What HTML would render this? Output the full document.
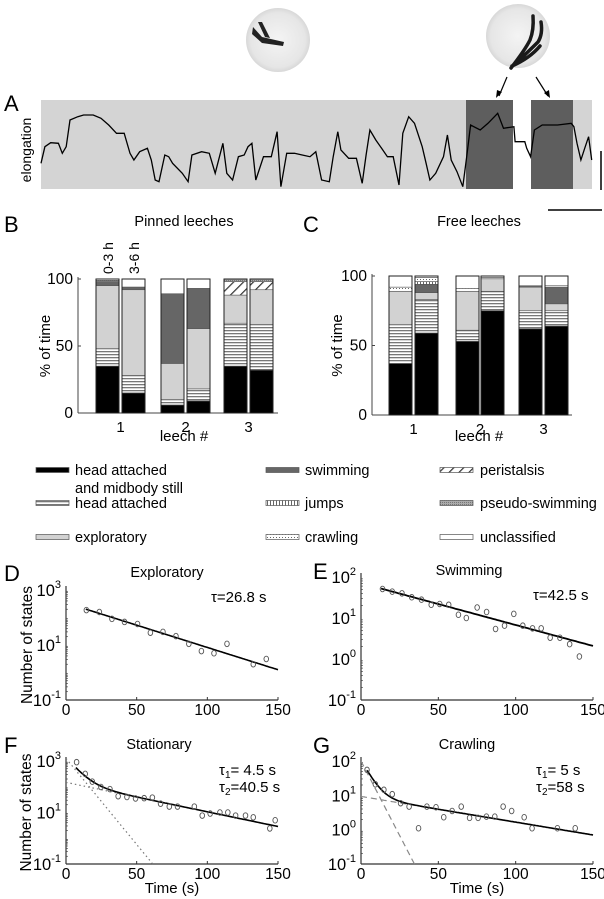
<!DOCTYPE html>
<html><head><meta charset="utf-8">
<style>
html,body{margin:0;padding:0;background:#fff;overflow:hidden;width:604px;height:899px;}
svg{display:block;font-family:"Liberation Sans",Arial,sans-serif;}
</style></head>
<body>
<svg id="fig" width="604" height="899" viewBox="0 0 604 899" xmlns="http://www.w3.org/2000/svg">
<defs>
<pattern id="pHead" width="4" height="3" patternUnits="userSpaceOnUse"><rect width="4" height="3" fill="#fff"/><rect y="0" width="4" height="1.3" fill="#777"/></pattern>
<pattern id="pJump" width="3" height="4" patternUnits="userSpaceOnUse"><rect width="3" height="4" fill="#fff"/><rect width="1" height="4" fill="#666"/></pattern>
<pattern id="pCrawl" width="3" height="3" patternUnits="userSpaceOnUse"><rect width="3" height="3" fill="#fff"/><rect width="1" height="1" fill="#666"/></pattern>
<pattern id="pPeri" width="7" height="7" patternUnits="userSpaceOnUse" patternTransform="rotate(45)"><rect width="7" height="7" fill="#fff"/><rect width="1.2" height="7" fill="#333"/></pattern>
<pattern id="pPseudo" width="2" height="2" patternUnits="userSpaceOnUse"><rect width="2" height="2" fill="#aaa"/><rect width="1" height="1" fill="#777"/></pattern>
<clipPath id="clipD"><rect x="66" y="585" width="215" height="116"/></clipPath>
<clipPath id="clipE"><rect x="359" y="572" width="237" height="129"/></clipPath>
<clipPath id="clipF"><rect x="66" y="756" width="215" height="109"/></clipPath>
<clipPath id="clipG"><rect x="361" y="756" width="235" height="109"/></clipPath>
<radialGradient id="dish" cx="50%" cy="50%" r="50%"><stop offset="0" stop-color="#f4f4f4"/><stop offset="0.85" stop-color="#e6e6e6"/><stop offset="1" stop-color="#d8d8d8"/></radialGradient>
</defs>
</svg>
<script>
// ---------- Panel A trace data ----------
const traceT = [0,10,25,45,55,65,75,95,110,135,155,175,195,215,230,240,255,275,285,295,305,320,330,340,365,380,390,415,435,450,470,480,495,510,525,535,545,555,575,595,610,620,635,655,675,695,710,725,745,755,767,775,795,815,830,840,850,865,880,895,910,925,935,950,965,985,995,1005,1020,1040,1050,1060,1075,1090,1100,1110,1135,1155,1180,1195,1222,1225,1250,1255,1265,1275,1295,1335,1370,1377,1385,1395,1405,1415,1423];
const traceE = [78,128,140,138,108,128,208,218,223,223,213,193,168,168,108,88,113,123,88,28,23,103,98,78,48,23,103,113,108,48,138,48,28,98,103,128,138,28,98,98,173,8,108,108,103,98,113,28,23,98,173,118,93,93,18,103,178,148,123,98,98,13,168,218,198,128,78,28,48,98,163,88,53,8,98,193,178,198,228,183,188,143,143,123,98,178,193,193,198,188,138,88,123,158,88];

// ---------- Panel B/C bar data (percent of time) ----------
const barGroups = ["1","2","3"];
const pinnedHeadStill = [35,15,6,9,35,32];
const pinnedHeadAtt   = [13,13,4,9,32,34];
const pinnedExplor    = [47,64,27,45,21,26];
const pinnedSwim      = [3,2,52,30,0,0];
const pinnedJumps     = [0,0,0,0,0,0];
const pinnedCrawl     = [0,0,0,0,0,0];
const pinnedPeri      = [0,0,0,0,10,6];
const pinnedPseudo    = [1,0,0,0,2,2];
const pinnedUncl      = [1,6,11,7,0,0];
const freeHeadStill = [37,59,53,75,62,64];
const freeHeadAtt   = [28,24,8,14,13,11];
const freeExplor    = [24,5,28,9,17,5];
const freeSwim      = [0,6,0,0,1,12];
const freeJumps     = [0,2,0,0,0,0];
const freeCrawl     = [3,3,2,1,0,1];
const freePeri      = [0,0,0,0,0,0];
const freePseudo    = [0,0,0,0,0,0];
const freeUncl      = [8,1,9,1,7,7];
const percentTicks = [0,50,100];

// ---------- Panels D-G (survival of states) ----------
const timeTicks = [0,50,100,150];
const exploT = [14.4,23.6,32.5,41.4,50.6,59.7,68.6,77.8,86.9,95.8,104.7,113.9,132.5,141.7];
const exploN = [186,158,89,69,58,28,30,21,11,6,5,11,2,3.1];
const exploFitAmp = [340]; const exploFitTau = [26.8];
const swimT = [13.9,20.2,26.5,32.8,39.1,45.4,50.9,56.7,63,68.1,75.1,81.2,87,92.8,98.8,104.6,110.9,116.5,122.3,128.6,134.9,141.2];
const swimN = [51,44,40,32,28,21,22,21,12,10,18,14,5.4,6.5,12.6,6.5,5.6,5.6,3.3,3.3,2.3,1.15];
const swimFitAmp = [71]; const swimFitTau = [42.5];
const statT = [7.5,13.6,18.6,24.7,31.1,36.9,43.1,49.2,55.3,61.1,66.9,73.1,78.9,90.8,96.4,102,108.9,114.5,120,127,132.5,144.2,148];
const statN = [900,316,158,98,81,43,40,35,36,38,22,17,17,17,7.6,9.1,10,10,7.6,7.6,6.5,2.4,5.0];
const statFastAmp = [1260]; const statFastTau = [6.5];
const statSlowAmp = [148]; const statSlowTau = [38];
const crawlT = [3.9,9.3,14.8,20.2,25.6,31.1,37.2,42.6,48.5,53.5,58.9,64.8,70.2,75.7,81.1,86.5,91.9,97.4,105.5,110.6,127,138.5];
const crawlN = [55,21,14.5,10.8,5.9,4.7,1.1,4.7,4.5,2.3,3.5,4.7,2.2,2.2,2.4,2.4,4.7,3.5,2.3,1.1,1.1,1.1];
const crawlFastAmp = [100]; const crawlFastTau = [5];
const crawlSlowAmp = [9.3]; const crawlSlowTau = [58];

const NS = "http://www.w3.org/2000/svg";
const svg = document.getElementById('fig');
function mk(tag, attrs, parent){
  const e = document.createElementNS(NS, tag);
  for (const k in attrs) e.setAttribute(k, attrs[k]);
  (parent||svg).appendChild(e);
  return e;
}
function txt(str, x, y, size, anchor, parent){
  const t = mk('text', {x:x, y:y, 'font-size':size, 'text-anchor':anchor||'start', fill:'#000'}, parent);
  t.textContent = str;
  return t;
}

// ================= Panel A =================
const gA = mk('g', {});


let t = txt('A', 4, 111, 22, 'start', gA);


const dish1 = mk('circle', {cx:278, cy:40, r:32, fill:'url(#dish)'}, gA);


mk('path', {d:'M253 27 L262 37 L284 42 L283 46 L262 43 L252 34 Z M258 22 L265 37 L270 38 L262 22 Z', fill:'#222'}, gA);
const dish2 = mk('circle', {cx:518, cy:36, r:32, fill:'url(#dish)'}, gA);


mk('path', {d:'M511 68 Q525 50 530 40 Q534 30 533 16 M515 64 Q528 52 538 42 Q543 34 541 22 M512 66 Q530 58 540 46', stroke:'#1a1a1a', 'stroke-width':3.5, fill:'none', 'stroke-linecap':'round'}, gA);
const xA = v => 41 + v*0.387;
const yA = e => (568 - e)/3;
const bgA = mk('rect', {x:41, y:100, width:551, height:89, fill:'#d4d4d4'}, gA);


const sw1 = mk('rect', {x:466, y:100, width:47, height:89, fill:'#5e5e5e'}, gA);


mk('rect', {x:513, y:100, width:18, height:89, fill:'#fff'}, gA);
const sw2 = mk('rect', {x:531, y:100, width:42, height:89, fill:'#5e5e5e'}, gA);


let pts = traceT.map((v,i)=> xA(v).toFixed(1)+','+yA(traceE[i]).toFixed(1)).join(' ');
const tr = mk('polyline', {points:pts, fill:'none', stroke:'#000', 'stroke-width':1.3}, gA);


t = mk('text', {x:0, y:0, 'font-size':14, 'text-anchor':'middle', transform:'translate(31,150) rotate(-90)'}, gA);
t.textContent = 'elongation';


mk('line', {x1:507, y1:77, x2:499, y2:96, stroke:'#000', 'stroke-width':1.2}, gA);
mk('path', {d:'M496 98 L497 90 L502 92 Z', fill:'#000'}, gA);
mk('line', {x1:536, y1:77, x2:548, y2:96, stroke:'#000', 'stroke-width':1.2}, gA);
mk('path', {d:'M550 98 L544 93 L549 90 Z', fill:'#000'}, gA);
const vb = mk('line', {x1:601, y1:151, x2:601, y2:190, stroke:'#000', 'stroke-width':1.5}, gA);


const hb = mk('line', {x1:548, y1:210, x2:602, y2:210, stroke:'#000', 'stroke-width':1.5}, gA);



// ================= Bar panels =================
const fills = ['#000','url(#pHead)','#d2d2d2','#666','url(#pJump)','url(#pCrawl)','url(#pPeri)','url(#pPseudo)','#fff'];
const catNames = ['head-attached-midbody-still','head-attached','exploratory','swimming','jumps','crawling','peristalsis','pseudo-swimming','unclassified'];
function barPanel(opt){
  const g = mk('g', {});
  
  
  const y = v => opt.y0 + (opt.y100 - opt.y0)*v/100;
  mk('line', {x1:opt.axX, y1:opt.y100-2, x2:opt.axX, y2:opt.y0, stroke:'#444', 'stroke-width':1}, g);
  mk('line', {x1:opt.axX, y1:opt.y0, x2:opt.axEnd, y2:opt.y0, stroke:'#444', 'stroke-width':1}, g);
  percentTicks.forEach(v=>{
    mk('line', {x1:opt.axX, y1:y(v), x2:opt.axX+3, y2:y(v), stroke:'#444'}, g);
    const l = txt(String(v), opt.axX-5, y(v)+5, 15.5, 'end', g);
    
    
  });
  barGroups.forEach((lab,gi)=>{
    const cx = (opt.barX[gi*2] + opt.barX[gi*2+1] + opt.bw)/2;
    const l = txt(lab, cx, opt.y0+19, 15, 'middle', g);
    
    
  });
  for (let b=0;b<6;b++){
    let acc = 0;
    const bg = mk('g', {}, g);
    
    
    opt.series.forEach((arr,si)=>{
      const v = arr[b];
      if (v<=0) return;
      const r = mk('rect', {x:opt.barX[b], y:y(acc+v), width:opt.bw, height:y(acc)-y(acc+v), fill:fills[si], stroke:'#555', 'stroke-width':0.6}, bg);
      
      
      acc += v;
    });
    mk('rect', {x:opt.barX[b], y:y(acc), width:opt.bw, height:y(0)-y(acc), fill:'none', stroke:'#222', 'stroke-width':1}, bg);
  }
  const ti = txt(opt.title, opt.titleX, 226, 14.5, 'middle', g);
  
  
  const le = txt(opt.letter, opt.letterX, 232, 22, 'start', g);
  
  
  const xt = txt('leech #', opt.titleX, 441, 15, 'middle', g);
  
  
  const yt = mk('text', {x:0, y:0, 'font-size':15, 'text-anchor':'middle', transform:'translate('+opt.ytX+','+((opt.y0+opt.y100)/2)+') rotate(-90)'}, g);
  yt.textContent = '% of time';
  
  
  return g;
}
barPanel({name:'panel-b-pinned', y0:413, y100:279, axX:78, axEnd:278, barX:[96,122,161,187,224,250], bw:23,
  series:[pinnedHeadStill,pinnedHeadAtt,pinnedExplor,pinnedSwim,pinnedJumps,pinnedCrawl,pinnedPeri,pinnedPseudo,pinnedUncl],
  title:'Pinned leeches', titleX:184, letter:'B', letterX:4, ytX:50});
barPanel({name:'panel-c-free', y0:415, y100:276, axX:372, axEnd:572, barX:[389,415,456,481,519,545], bw:23,
  series:[freeHeadStill,freeHeadAtt,freeExplor,freeSwim,freeJumps,freeCrawl,freePeri,freePseudo,freeUncl],
  title:'Free leeches', titleX:479, letter:'C', letterX:303, ytX:342});
t = mk('text', {x:0,y:0,'font-size':14,'text-anchor':'start',transform:'translate(113,274) rotate(-90)'});
t.textContent = '0-3 h';


t = mk('text', {x:0,y:0,'font-size':14,'text-anchor':'start',transform:'translate(139,274) rotate(-90)'});
t.textContent = '3-6 h';



// ================= Legend =================
const legendLabels = [['head attached','and midbody still'],['head attached'],['exploratory'],['swimming'],['jumps'],['crawling'],['peristalsis'],['pseudo-swimming'],['unclassified']];
const legendCol = [0,0,0,1,1,1,2,2,2];
const legendRow = [0,1,2,0,1,2,0,1,2];
const colSw = [36,266,440], colTx = [75,305,480], rowY = [470,503,537];
const lg = mk('g', {});


legendLabels.forEach((lab,i)=>{
  const eg = mk('g', {}, lg);
  
  
  const cy = rowY[legendRow[i]];
  mk('rect', {x:colSw[legendCol[i]], y:cy-2.5, width:33, height:5, fill:fills[i], stroke:'#555', 'stroke-width':0.7}, eg);
  lab.forEach((s,k)=> txt(s, colTx[legendCol[i]], cy+5+k*18, 14.5, 'start', eg));
});

// ================= Log plots =================
function logPanel(o){
  const g = mk('g', {});
  
  
  const xs = v => o.x0 + (o.x150-o.x0)*v/150;
  const ys = v => o.yTop + (o.decTop - Math.log10(v))*(o.yBot-o.yTop)/(o.decTop-(-1));
  mk('line', {x1:o.x0, y1:o.yTop-4, x2:o.x0, y2:o.yBot, stroke:'#333', 'stroke-width':1.2}, g);
  mk('line', {x1:o.x0, y1:o.yBot, x2:o.x150, y2:o.yBot, stroke:'#333', 'stroke-width':1.2}, g);
  timeTicks.forEach(v=>{
    mk('line', {x1:xs(v), y1:o.yBot, x2:xs(v), y2:o.yBot-3, stroke:'#333'}, g);
    const l = txt(String(v), xs(v), o.yBot+15, 15.5, 'middle', g);
    
    
  });
  o.decLabels.forEach(d=>{
    const yy = ys(Math.pow(10,d));
    const l = mk('text', {x:o.x0-5, y:yy+6, 'font-size':16.5, 'text-anchor':'end'}, g);
    l.innerHTML = '10<tspan dy="-8" font-size="11">'+d+'</tspan>';
    
    
  });
  for (let d=-1; d<o.decTop; d++){
    for (let m=2;m<10;m++){ mk('line',{x1:o.x0,y1:ys(m*Math.pow(10,d)),x2:o.x0+2,y2:ys(m*Math.pow(10,d)),stroke:'#333','stroke-width':0.6},g); }
  }
  const cg = mk('g', {'clip-path':'url(#'+o.clip+')'}, g);
  o.fits.forEach(f=>{
    const p = [];
    for (let tt=f.from; tt<=150.001; tt+=1){ p.push(xs(tt).toFixed(1)+','+ys(f.fn(tt)).toFixed(1)); }
    const pl = mk('polyline', {points:p.join(' '), fill:'none', stroke:f.color, 'stroke-width':f.w, 'stroke-dasharray':f.dash||'none'}, cg);
    
    
  });
  o.T.forEach((tv,i)=>{
    const c = mk('ellipse', {cx:xs(tv), cy:ys(o.N[i]), rx:2.3, ry:2.8, fill:'none', stroke:'#555', 'stroke-width':0.9}, g);
    
    
  });
  const ti = txt(o.title, o.titleX, o.titleY, 14.5, 'middle', g);
  
  
  const le = txt(o.letter, o.letterX, o.titleY+4, 22, 'start', g);
  
  
  o.notes.forEach((n,k)=>{
    const a = mk('text', {x:o.noteX, y:o.noteY+k*17, 'font-size':15}, g);
    a.innerHTML = n;
    
    
  });
  if (o.ytitle){
    const yt = mk('text', {x:0,y:0,'font-size':15.5,'text-anchor':'middle',transform:'translate('+o.ytX+','+((o.yTop+o.yBot)/2)+') rotate(-90)'}, g);
    yt.textContent = 'Number of states';
    
    
  }
  if (o.xtitle){
    const xt = txt('Time (s)', (o.x0+o.x150)/2, 893, 15, 'middle', g);
    
    
  }
}
logPanel({name:'panel-d-exploratory', x0:66, x150:278, yTop:590, yBot:700, decTop:3, decLabels:[3,1,-1], clip:'clipD',
  T:exploT, N:exploN, fits:[{name:'fit-line', from:14, color:'#000', w:1.6, fn:tt=>exploFitAmp[0]*Math.exp(-tt/exploFitTau[0])}],
  title:'Exploratory', titleX:167, titleY:577, letter:'D', letterX:4, notes:['τ=26.8 s'], noteX:211, noteY:602, ytitle:true, ytX:32});
logPanel({name:'panel-e-swimming', x0:361, x150:593, yTop:577, yBot:700, decTop:2, decLabels:[2,1,0,-1], clip:'clipE',
  T:swimT, N:swimN, fits:[{name:'fit-line', from:13, color:'#000', w:1.8, fn:tt=>swimFitAmp[0]*Math.exp(-tt/swimFitTau[0])}],
  title:'Swimming', titleX:469, titleY:575, letter:'E', letterX:313, notes:['τ=42.5 s'], noteX:533, noteY:600});
logPanel({name:'panel-f-stationary', x0:66, x150:278, yTop:761, yBot:864, decTop:3, decLabels:[3,1,-1], clip:'clipF',
  T:statT, N:statN, fits:[
    {name:'fast-component', from:0, color:'#777', w:1.2, dash:'1.5,3', fn:tt=>statFastAmp[0]*Math.exp(-tt/statFastTau[0])},
    {name:'slow-component', from:0, color:'#777', w:1.2, dash:'1.5,3', fn:tt=>statSlowAmp[0]*Math.exp(-tt/statSlowTau[0])},
    {name:'fit-curve', from:7, color:'#000', w:1.6, fn:tt=>statFastAmp[0]*Math.exp(-tt/statFastTau[0])+statSlowAmp[0]*Math.exp(-tt/statSlowTau[0])}],
  title:'Stationary', titleX:159, titleY:749, letter:'F', letterX:4,
  notes:['τ<tspan font-size="10" dy="3">1</tspan><tspan dy="-3">=  4.5 s</tspan>','τ<tspan font-size="10" dy="3">2</tspan><tspan dy="-3">=40.5 s</tspan>'], noteX:219, noteY:775, ytitle:true, ytX:31, xtitle:true});
logPanel({name:'panel-g-crawling', x0:361, x150:593, yTop:761, yBot:864, decTop:2, decLabels:[2,1,0,-1], clip:'clipG',
  T:crawlT, N:crawlN, fits:[
    {name:'fast-component', from:0, color:'#888', w:1.2, dash:'6,4', fn:tt=>crawlFastAmp[0]*Math.exp(-tt/crawlFastTau[0])},
    {name:'slow-component', from:0, color:'#888', w:1.2, dash:'6,4', fn:tt=>crawlSlowAmp[0]*Math.exp(-tt/crawlSlowTau[0])},
    {name:'fit-curve', from:4, color:'#000', w:1.6, fn:tt=>crawlFastAmp[0]*Math.exp(-tt/crawlFastTau[0])+crawlSlowAmp[0]*Math.exp(-tt/crawlSlowTau[0])}],
  title:'Crawling', titleX:467, titleY:749, letter:'G', letterX:313,
  notes:['τ<tspan font-size="10" dy="3">1</tspan><tspan dy="-3">=  5 s</tspan>','τ<tspan font-size="10" dy="3">2</tspan><tspan dy="-3">=58 s</tspan>'], noteX:536, noteY:775, xtitle:true});
</script>
</body></html>
